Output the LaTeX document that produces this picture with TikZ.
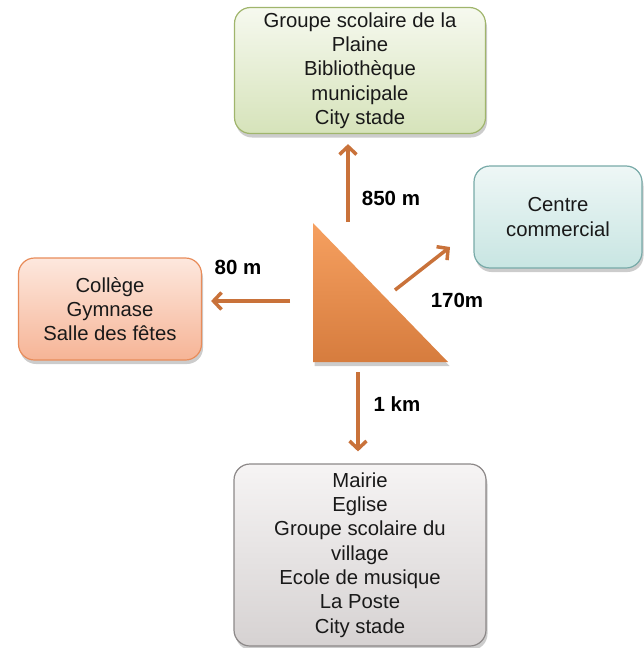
\documentclass[tikz,border=0pt]{standalone}
\usepackage{fontspec}
\setmainfont{Liberation Sans}
\usetikzlibrary{arrows.meta,shadows}
\definecolor{flecheC}{RGB}{201,114,58}
\definecolor{vertT}{RGB}{246,249,239}\definecolor{vertB}{RGB}{214,227,186}\definecolor{vertD}{RGB}{160,181,108}
\definecolor{bleuT}{RGB}{238,247,246}\definecolor{bleuB}{RGB}{200,229,226}\definecolor{bleuD}{RGB}{120,170,168}
\definecolor{oranT}{RGB}{253,232,222}\definecolor{oranB}{RGB}{246,180,150}\definecolor{oranD}{RGB}{232,140,90}
\definecolor{grisT}{RGB}{246,244,244}\definecolor{grisB}{RGB}{214,210,210}\definecolor{grisD}{RGB}{140,136,136}
\begin{document}
\begin{tikzpicture}[x=1pt, y=-1pt, line join=round,
    boite/.style={draw, line width=1.2pt, rounded corners=16pt, align=center,
        font=\fontsize{20.3}{24.3}\selectfont, text=black!90, inner sep=0pt,
        drop shadow={opacity=.4, shadow xshift=1.5pt, shadow yshift=-4pt}},
    fleche/.style={draw=flecheC, line width=3.5pt, -{Straight Barb[length=8pt,width=17pt]}},
    dist/.style={font=\fontsize{20.5}{22}\bfseries\selectfont}]
\useasboundingbox (0,0) rectangle (643,648);
% les quatre destinations
\node[boite, draw=vertD, top color=vertT, bottom color=vertB,
      minimum width=251pt, minimum height=126pt] (plaine) at (360,70.5)
      {Groupe scolaire de la\\Plaine\\Biblioth\`eque\\municipale\\City stade};
\node[boite, draw=bleuD, top color=bleuT, bottom color=bleuB,
      minimum width=168pt, minimum height=102pt] (centre) at (558,217)
      {Centre\\commercial};
\node[boite, draw=oranD, top color=oranT, bottom color=oranB,
      minimum width=183pt, minimum height=102pt] (college) at (110,309)
      {Coll\`ege\\Gymnase\\Salle des f\^etes};
\node[boite, draw=grisD, top color=grisT, bottom color=grisB,
      minimum width=252pt, minimum height=182pt] (village) at (360,555)
      {Mairie\\Eglise\\Groupe scolaire du\\village\\Ecole de musique\\La Poste\\City stade};
% le triangle
\shade[top color={rgb,255:red,246;green,160;blue,96}, bottom color={rgb,255:red,214;green,124;blue,62},
       drop shadow={opacity=.4, shadow xshift=1.5pt, shadow yshift=-4pt}]
      (313,223) -- (313,362) -- (448,362) -- cycle;
% les fleches
\coordinate (haut) at (348,222);
\coordinate (gauche) at (290,301);
\coordinate (bas) at (358,372);
\coordinate (diag) at (395,290);
\coordinate (diagfin) at (450,247);
\draw[fleche, shorten >=10pt] (haut) -- (haut |- plaine.south);
\draw[fleche, shorten >=9pt] (gauche) -- (gauche -| college.east);
\draw[fleche, shorten >=12pt] (bas) -- (bas |- village.north);
\draw[fleche] (diag) -- (diagfin);
\node[dist] (d850) at (391,198) {850 m};
\node[dist] (d80) at (238,267) {80 m};
\node[dist] (d1k) at (397,404) {1 km};
\node[dist] (d170) at (457,300) {170m};
\end{tikzpicture}
\end{document}
